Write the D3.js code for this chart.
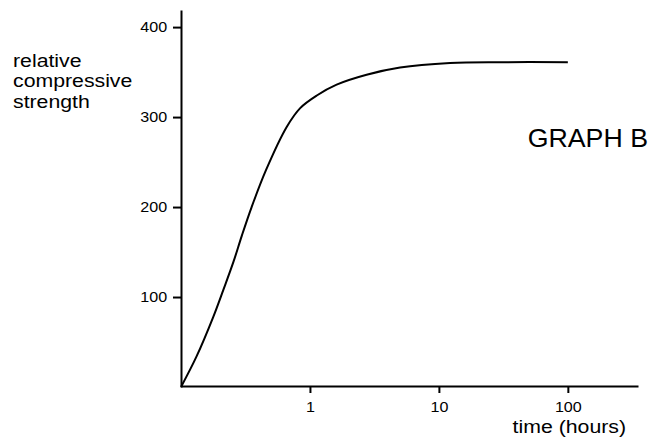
<!DOCTYPE html>
<html lang="en">
<head>
    <meta charset="UTF-8">
    <title>Graph B</title>
    <script src="https://d3js.org/d3.v7.min.js"></script>
    <style>
        body { margin: 0; background: #fff; }
        svg text { font-family: "Liberation Sans", Arial, Helvetica, sans-serif; fill: #000; }
        .axis path, .axis line { stroke: #000; stroke-width: 2px; }
        .curve { fill: none; stroke: #000; stroke-width: 2px; }
    </style>
</head>
<body>
    <svg width="650" height="439"></svg>

    <script>
        // time in hours (log axis) and relative strength
        const timeHours = [0.1, 0.132, 0.178, 0.213, 0.255, 0.296, 0.353, 0.456, 0.66, 0.84, 1.13, 1.61, 2.75, 5.0, 12.2, 30, 100];
        const strength  = [0,   34,    78,    108,   139,   168,   200,   241,   289,  310,  324,  336,  347,  355, 360,  361, 361];
        const xTicks = [1, 10, 100];
        const yTicks = [100, 200, 300, 400];

        // the printed lettering is a little wider than normal
        const stretch = 1.15;

        const svg = d3.select("svg");

        const x = d3.scaleLog()
            .domain([0.1, 350])
            .range([181, 638]);

        const y = d3.scaleLinear()
            .domain([0, 419])
            .range([387, 10]);

        svg.append("g")
            .attr("class", "axis axis--x")
            .attr("transform", "translate(0,386)")
            .call(d3.axisBottom(x).tickValues(xTicks).tickFormat(d3.format("d"))
                .tickSize(7).tickSizeOuter(0).tickPadding(9))
            .selectAll("text")
            .style("font-size", "14px")
            .attr("transform", `scale(${stretch},1)`);

        svg.append("g")
            .attr("class", "axis axis--y")
            .attr("transform", "translate(181,0)")
            .call(d3.axisLeft(y).tickValues(yTicks).tickSize(8).tickSizeOuter(0).tickPadding(4))
            .selectAll("text")
            .style("font-size", "14px")
            .attr("transform", `scale(${stretch},1)`);

        const pts = timeHours.map((t, i) => [x(t), y(strength[i])]);
        svg.append("path")
            .attr("class", "curve")
            .attr("d", d3.line().curve(d3.curveCatmullRom.alpha(0.5))(pts));

        // y axis title, three lines
        const yTitle = svg.append("text")
            .attr("transform", `translate(13,67) scale(${stretch},1)`)
            .style("font-size", "18.5px");
        ["relative", "compressive", "strength"].forEach((s, i) => {
            yTitle.append("tspan").attr("x", 0).attr("dy", i ? 20.5 : 0).text(s);
        });

        svg.append("text")
            .attr("transform", `translate(626,433) scale(${stretch},1)`)
            .attr("text-anchor", "end")
            .style("font-size", "18.5px")
            .text("time (hours)");

        svg.append("text")
            .attr("transform", "translate(648,147) scale(1.07,1)")
            .attr("text-anchor", "end")
            .style("font-size", "25px")
            .text("GRAPH B");
    </script>
</body>
</html>
